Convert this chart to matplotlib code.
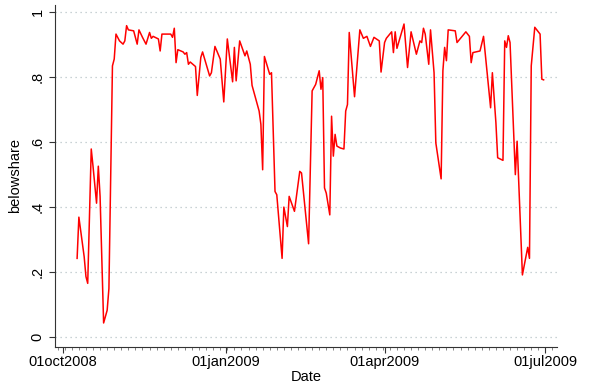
import matplotlib
matplotlib.use("Agg")
import matplotlib.pyplot as plt
import matplotlib.dates as mdates
from matplotlib.ticker import FixedLocator
import pandas as pd

plt.rcParams.update({
    "font.family": ["Liberation Sans", "DejaVu Sans"], "font.size": 10,
})

# belowshare series
dates = [
    "2008-10-09", "2008-10-10", "2008-10-13", "2008-10-14", "2008-10-15", "2008-10-17",
    "2008-10-18", "2008-10-20", "2008-10-21", "2008-10-22", "2008-10-24", "2008-10-26",
    "2008-10-27", "2008-10-29", "2008-10-30", "2008-10-31", "2008-11-02", "2008-11-04",
    "2008-11-05", "2008-11-06", "2008-11-07", "2008-11-10", "2008-11-12", "2008-11-13",
    "2008-11-15", "2008-11-17", "2008-11-19", "2008-11-20", "2008-11-21", "2008-11-24",
    "2008-11-25", "2008-11-26", "2008-12-01", "2008-12-02", "2008-12-03", "2008-12-04",
    "2008-12-05", "2008-12-08", "2008-12-09", "2008-12-10", "2008-12-11", "2008-12-12",
    "2008-12-15", "2008-12-16", "2008-12-18", "2008-12-19", "2008-12-23", "2008-12-24",
    "2008-12-26", "2008-12-29", "2008-12-31", "2009-01-02", "2009-01-05", "2009-01-06",
    "2009-01-07", "2009-01-09", "2009-01-12", "2009-01-13", "2009-01-15", "2009-01-16",
    "2009-01-20", "2009-01-21", "2009-01-22", "2009-01-23", "2009-01-26", "2009-01-27",
    "2009-01-29", "2009-01-30", "2009-02-02", "2009-02-03", "2009-02-05", "2009-02-06",
    "2009-02-09", "2009-02-12", "2009-02-13", "2009-02-17", "2009-02-19", "2009-02-21",
    "2009-02-23", "2009-02-24", "2009-02-25", "2009-02-26", "2009-02-27", "2009-03-01",
    "2009-03-02", "2009-03-03", "2009-03-04", "2009-03-05", "2009-03-07", "2009-03-09",
    "2009-03-10", "2009-03-11", "2009-03-12", "2009-03-15", "2009-03-18", "2009-03-20",
    "2009-03-22", "2009-03-24", "2009-03-26", "2009-03-29", "2009-03-30", "2009-04-01",
    "2009-04-02", "2009-04-05", "2009-04-06", "2009-04-07", "2009-04-08", "2009-04-12",
    "2009-04-14", "2009-04-16", "2009-04-19", "2009-04-21", "2009-04-22", "2009-04-23",
    "2009-04-24", "2009-04-26", "2009-04-27", "2009-04-29", "2009-04-30", "2009-05-03",
    "2009-05-04", "2009-05-05", "2009-05-06", "2009-05-07", "2009-05-11", "2009-05-12",
    "2009-05-17", "2009-05-19", "2009-05-20", "2009-05-21", "2009-05-25", "2009-05-27",
    "2009-05-31", "2009-06-01", "2009-06-03", "2009-06-04", "2009-06-07", "2009-06-08",
    "2009-06-09", "2009-06-10", "2009-06-11", "2009-06-14", "2009-06-15", "2009-06-18",
    "2009-06-21", "2009-06-22", "2009-06-23", "2009-06-25", "2009-06-28", "2009-06-29",
    "2009-06-30",
]
belowshare = [
    0.242, 0.369, 0.247, 0.186, 0.165, 0.579,
    0.526, 0.412, 0.526, 0.433, 0.043, 0.082,
    0.149, 0.835, 0.856, 0.933, 0.912, 0.902,
    0.912, 0.959, 0.946, 0.943, 0.902, 0.946,
    0.923, 0.902, 0.938, 0.920, 0.926, 0.918,
    0.881, 0.933, 0.933, 0.923, 0.951, 0.845,
    0.885, 0.878, 0.871, 0.876, 0.840, 0.847,
    0.833, 0.744, 0.861, 0.878, 0.804, 0.814,
    0.895, 0.856, 0.724, 0.918, 0.786, 0.892,
    0.789, 0.912, 0.866, 0.881, 0.840, 0.775,
    0.696, 0.655, 0.515, 0.864, 0.809, 0.814,
    0.448, 0.438, 0.242, 0.400, 0.340, 0.433,
    0.387, 0.510, 0.505, 0.287, 0.758, 0.778,
    0.820, 0.763, 0.799, 0.459, 0.443, 0.376,
    0.680, 0.557, 0.624, 0.588, 0.582, 0.579,
    0.696, 0.716, 0.938, 0.740, 0.946, 0.920,
    0.926, 0.895, 0.923, 0.912, 0.816, 0.907,
    0.920, 0.940, 0.876, 0.940, 0.889, 0.964,
    0.830, 0.940, 0.871, 0.912, 0.907, 0.951,
    0.933, 0.840, 0.946, 0.814, 0.598, 0.487,
    0.820, 0.892, 0.851, 0.946, 0.943, 0.907,
    0.940, 0.926, 0.845, 0.876, 0.881, 0.926,
    0.706, 0.814, 0.660, 0.552, 0.544, 0.912,
    0.892, 0.928, 0.907, 0.500, 0.603, 0.191,
    0.276, 0.242, 0.835, 0.954, 0.933, 0.794,
    0.792,
]
x_ticks = ["2008-10-01", "2009-01-01", "2009-04-01", "2009-07-01"]
x_tick_labels = ["01oct2008", "01jan2009", "01apr2009", "01jul2009"]
y_ticks = [0, 0.2, 0.4, 0.6, 0.8, 1]
y_tick_labels = ["0", ".2", ".4", ".6", ".8", "1"]

dt = pd.to_datetime(dates)

fig = plt.figure(figsize=(6.0, 3.87), dpi=100)
ax = fig.add_axes([0.0917, 0.1034, 0.837, 0.884])
ax.plot(dt, belowshare, color="#ff0000", lw=1.1, zorder=3)

origin = pd.Timestamp("2008-10-01")
ax.set_xlim(origin - pd.Timedelta(days=4.5), origin + pd.Timedelta(days=279.7))
ax.set_ylim(-0.031, 1.023)

ax.xaxis.set_major_locator(FixedLocator(mdates.date2num(pd.to_datetime(x_ticks))))
ax.set_xticklabels(x_tick_labels)
ax.xaxis.set_minor_locator(mdates.DayLocator(interval=4))
ax.set_yticks(y_ticks)
ax.set_yticklabels(y_tick_labels, rotation=90, va="center")

ax.tick_params(axis="both", which="major", length=4, width=0.8, color="#333333", labelsize=10.5)
ax.tick_params(axis="x", which="major", pad=1.5)
ax.tick_params(axis="x", which="minor", length=2, width=0.5, color="#555555")

ax.grid(axis="y", color="#b8c4c8", linestyle=(0, (1, 3)), lw=0.9)
for s in ("top", "right"):
    ax.spines[s].set_visible(False)
for s in ("left", "bottom"):
    ax.spines[s].set_color("#333333")
    ax.spines[s].set_linewidth(0.8)

ax.set_xlabel("Date", labelpad=1, fontsize=10.5)
ax.set_ylabel("belowshare", labelpad=6, fontsize=10.5)

fig.savefig("out.png", dpi=100, facecolor="white")
plt.close(fig)
